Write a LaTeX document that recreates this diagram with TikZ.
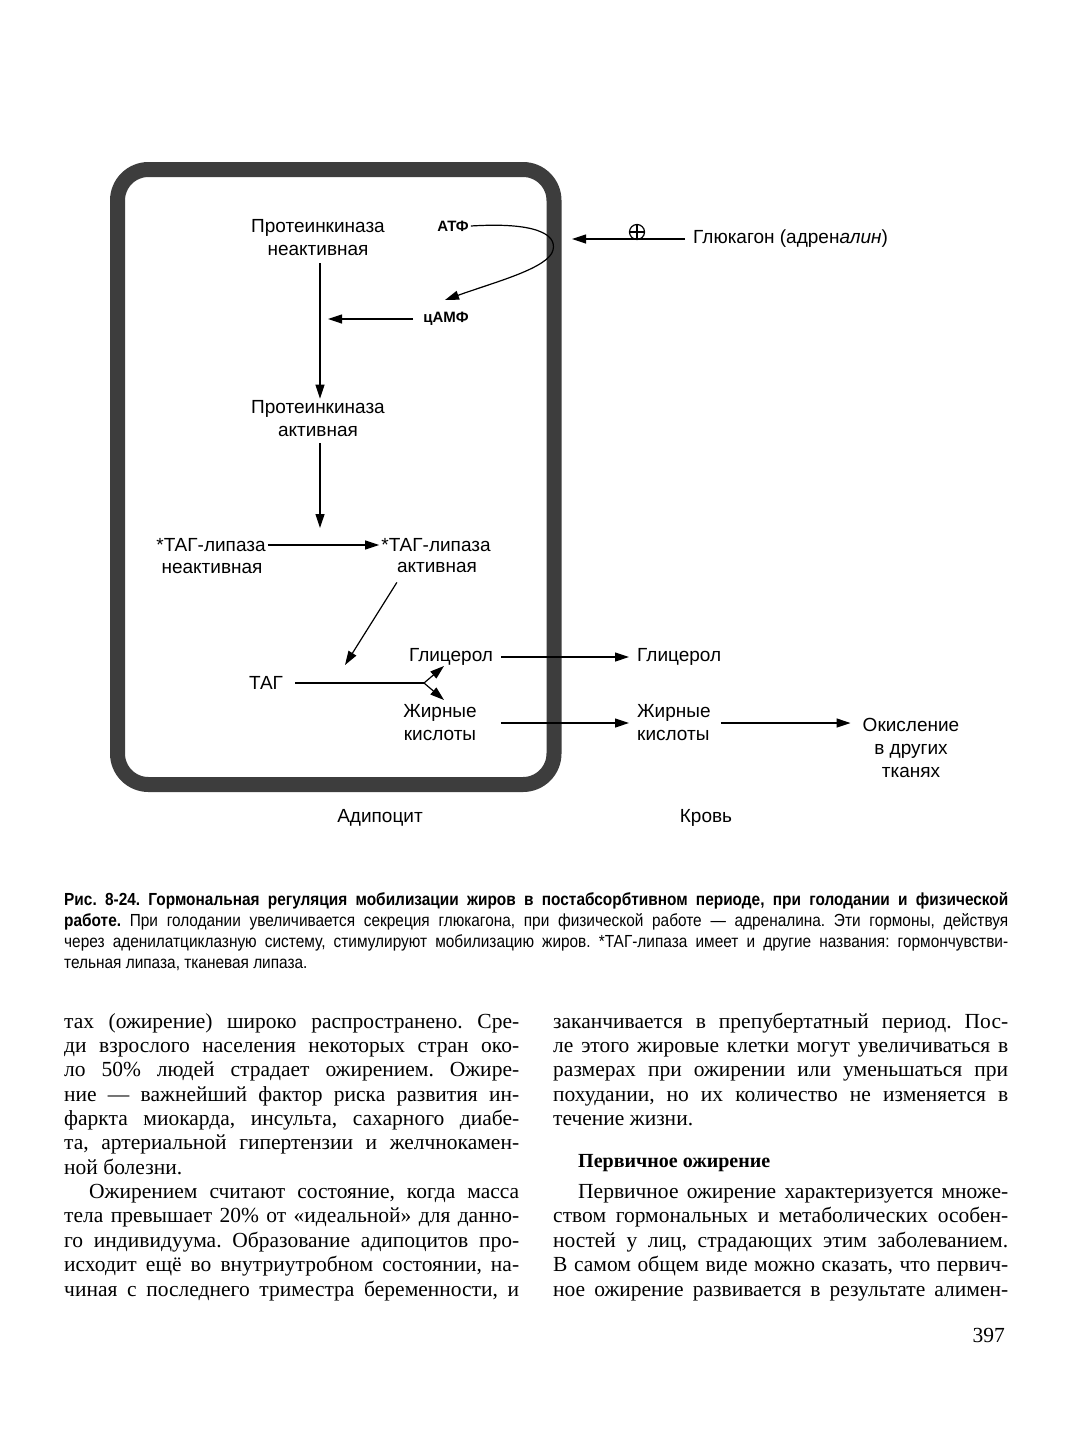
\documentclass[tikz,border=0pt]{standalone}
\usepackage{fontspec}
\setmainfont{Liberation Serif}
\newfontfamily\dsans{Liberation Sans}
\newfontfamily\capsans[FakeStretch=0.88]{Liberation Sans}
\usetikzlibrary{arrows.meta,calc}
\frenchspacing
\newcommand\bodyline[4]{\node[body] (#1) at (#2,#3) {\makebox[455pt][s]{#4}};}
\newcommand\bodyind[4]{\node[body] (#1) at (#2+25,#3) {\makebox[430pt][s]{#4}};}
\newcommand\bodylast[4]{\node[body] (#1) at (#2,#3) {#4};}
\newcommand\capline[3]{\node[capl] (#1) at (64,#2) {\makebox[944pt][s]{#3}};}
\begin{document}
\begin{tikzpicture}[x=1pt,y=-1pt,
  lbl/.style={font=\dsans\fontsize{19}{23}\selectfont, align=center, inner sep=2pt},
  blbl/.style={font=\dsans\bfseries\fontsize{15}{18}\selectfont, inner sep=2pt},
  arr/.style={-{Triangle[length=14pt,width=9pt]}, line width=1.2pt},
  ln/.style={line width=1.2pt},
  cell/.style={draw=black!76, line width=15pt, rounded corners=31pt},
  body/.style={font=\frenchspacing\fontsize{21.5}{24}\selectfont, anchor=base west, inner sep=0pt},
  capl/.style={font=\frenchspacing\capsans\fontsize{17.5}{21}\selectfont, anchor=base west, inner sep=0pt},
]
\useasboundingbox[fill=white] (0,0) rectangle (1077,1437);

% cell wall
\node[cell, minimum width=436.5pt, minimum height=615pt, inner sep=0pt] (cell) at (335.75,477) {};

% labels
\node[lbl] (pk1) at (318,238) {Протеинкиназа\\неактивная};
\node[blbl] (atp) at (453,226) {АТФ};
\node[blbl] (camp) at (446,319) {цАМФ};
\node[lbl] (pk2) at (318,419) {Протеинкиназа\\активная};
\node[lbl] (tl1a) at (211,545) {*ТАГ-липаза};
\node[lbl] (tl1b) at (212,568) {неактивная};
\node[lbl] (tl2a) at (436,545) {*ТАГ-липаза};
\node[lbl] (tl2b) at (437,567) {активная};
\node[lbl] (tag) at (266,683) {ТАГ};
\node[lbl] (gly1) at (451,657) {Глицерол};
\node[lbl] (fa1) at (440,723) {Жирные\\кислоты};
\node[lbl, anchor=west] (gly2) at (635,657) {Глицерол};
\node[lbl, anchor=west, align=left] (fa2) at (635,723) {Жирные\\кислоты};
\node[lbl] (ox) at (911,748) {Окисление\\в других\\тканях};
\node[lbl, anchor=west] (gluc) at (691,239) {Глюкагон (адрен\textit{алин})};
\node[lbl] (adipo) at (380,818) {Адипоцит};
\node[lbl] (blood) at (706,818) {Кровь};

% coordinates
\coordinate (vx) at (320,0);
\coordinate (lipTip) at (320,528);
\coordinate (campTip) at (328,0);
\coordinate (glucTip) at (572,0);
\coordinate (atpEnd) at (445,300);
\coordinate (tagIn) at (345,665);
\coordinate (fork) at (424,683);
\coordinate (forkUp) at (444,666);
\coordinate (forkDn) at (444,700);

% connectors
\draw[arr, shorten <=5pt] (pk1.south -| vx) -- (pk2.north -| vx);
\draw[arr, shorten <=4pt] (pk2.south -| vx) -- (lipTip);
\draw[arr, shorten <=8pt] (camp.west) -- (camp.west -| campTip);
\draw[arr, shorten <=6pt] (gluc.west) -- (gluc.west -| glucTip);
\node[circle, draw, line width=1.2pt, minimum size=15pt, inner sep=0pt] (plus) at (637,232) {};
\draw[line width=1.2pt] (plus.north) -- (plus.south) (plus.west) -- (plus.east);
\draw[arr] (atp.east) .. controls (535,222) and (557,234) .. (553,250) .. controls (549,268) and (495,282) .. (atpEnd);
\draw[arr] (tl1a.east) -- (tl2a.west);
\draw[arr] ($(tl2b.south west)+(2,8)$) -- (tagIn);
\draw[ln, shorten <=10pt] (tag.east) -- (fork);
\draw[arr] (fork) -- (forkUp);
\draw[arr] (fork) -- (forkDn);
\draw[arr, shorten <=6pt, shorten >=6pt] (gly1.east) -- (gly2.west);
\draw[arr, shorten <=22pt, shorten >=6pt] (fa1.east) -- (fa2.west);
\draw[arr, shorten <=8pt, shorten >=10pt] (fa2.east) -- (fa2.east -| ox.west);

% caption
\capline{c1}{905}{\bfseries Рис. 8-24. Гормональная регуляция мобилизации жиров в постабсорбтивном периоде, при голодании и физической}
\capline{c2}{926}{{\bfseries работе.} При голодании увеличивается секреция глюкагона, при физической работе — адреналина. Эти гормоны, действуя}
\capline{c3}{947}{через аденилатциклазную систему, стимулируют мобилизацию жиров. *ТАГ-липаза имеет и другие названия: гормончувстви-}
\node[capl] (c4) at (64,968) {тельная липаза, тканевая липаза.};

% left column
\bodyline{l1}{64}{1028}{тах (ожирение) широко распространено. Сре-}
\bodyline{l2}{64}{1052.4}{ди взрослого населения некоторых стран око-}
\bodyline{l3}{64}{1076.7}{ло 50\% людей страдает ожирением. Ожире-}
\bodyline{l4}{64}{1101.1}{ние — важнейший фактор риска развития ин-}
\bodyline{l5}{64}{1125.4}{фаркта миокарда, инсульта, сахарного диабе-}
\bodyline{l6}{64}{1149.8}{та, артериальной гипертензии и желчнокамен-}
\bodylast{l7}{64}{1174.2}{ной болезни.}
\bodyind{l8}{64}{1198.5}{Ожирением считают состояние, когда масса}
\bodyline{l9}{64}{1222.9}{тела превышает 20\% от «идеальной» для данно-}
\bodyline{l10}{64}{1247.2}{го индивидуума. Образование адипоцитов про-}
\bodyline{l11}{64}{1271.6}{исходит ещё во внутриутробном состоянии, на-}
\bodyline{l12}{64}{1296}{чиная с последнего триместра беременности, и}

% right column
\bodyline{r1}{553}{1028}{заканчивается в препубертатный период. Пос-}
\bodyline{r2}{553}{1052.4}{ле этого жировые клетки могут увеличиваться в}
\bodyline{r3}{553}{1076.7}{размерах при ожирении или уменьшаться при}
\bodyline{r4}{553}{1101.1}{похудании, но их количество не изменяется в}
\bodylast{r5}{553}{1125.4}{течение жизни.}
\node[body, font=\bfseries\fontsize{20}{24}\selectfont] (rh) at (578,1167) {Первичное ожирение};
\bodyind{r6}{553}{1198.5}{Первичное ожирение характеризуется множе-}
\bodyline{r7}{553}{1222.9}{ством гормональных и метаболических особен-}
\bodyline{r8}{553}{1247.2}{ностей у лиц, страдающих этим заболеванием.}
\bodyline{r9}{553}{1271.6}{В самом общем виде можно сказать, что первич-}
\bodyline{r10}{553}{1296}{ное ожирение развивается в результате алимен-}

% page number
\node[body, anchor=base east] (pg) at (1005,1342) {397};
\end{tikzpicture}
\end{document}
